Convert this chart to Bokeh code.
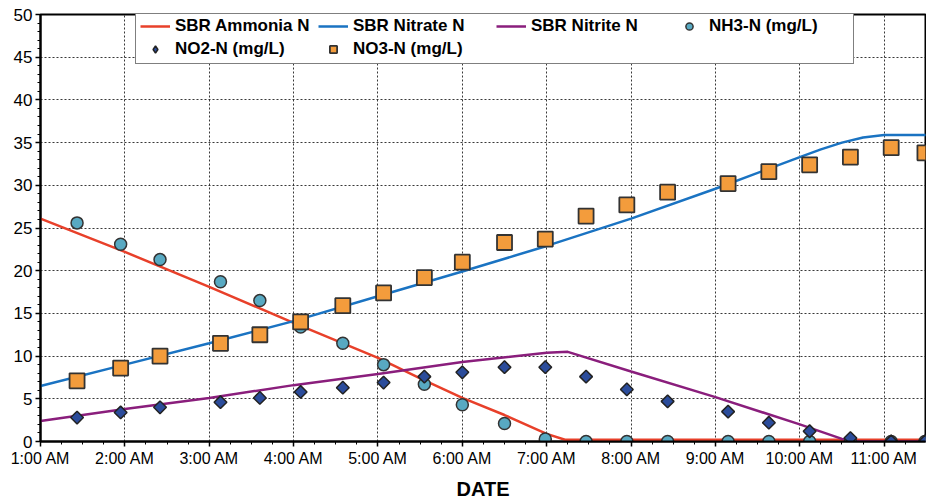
from bokeh.plotting import figure
from bokeh.models import FixedTicker, Legend, LegendItem
from bokeh.embed import file_html
from bokeh.resources import INLINE
import math

# ---------------- data ----------------
sample_times = ["1:26", "1:57", "2:25", "3:08", "3:36", "4:05", "4:35", "5:04", "5:33", "6:00",
                "6:30", "6:59", "7:28", "7:57", "8:26", "9:09", "9:38", "10:07", "10:36", "11:05", "11:29"]
nh3_n = [25.6, 23.1, 21.3, 18.7, 16.5, 13.4, 11.5, 9.0, 6.7, 4.3,
         2.1, 0.3, 0.0, 0.0, 0.0, 0.0, 0.0, 0.0, 0.0, 0.0, 0.0]
no2_n = [2.8, 3.4, 4.0, 4.6, 5.1, 5.8, 6.3, 6.9, 7.6, 8.1,
         8.7, 8.7, 7.6, 6.1, 4.7, 3.5, 2.2, 1.2, 0.4, 0.0, 0.0]
no3_n = [7.1, 8.6, 10.0, 11.5, 12.5, 14.0, 15.9, 17.4, 19.2, 21.0,
         23.3, 23.7, 26.4, 27.7, 29.2, 30.2, 31.6, 32.4, 33.3, 34.4, 33.8]

ammonia_times = ["1:00", "2:00", "3:00", "4:00", "5:00", "5:30", "6:00", "6:30", "7:00", "7:13", "11:30"]
ammonia_vals = [26.1, 22.2, 18.1, 13.9, 9.8, 7.4, 5.1, 3.1, 0.9, 0.2, 0.2]

nitrate_times = ["1:00", "2:00", "3:00", "4:00", "5:00", "6:00", "7:00", "8:00", "9:00", "10:00",
                 "10:15", "10:30", "10:45", "11:00", "11:30"]
nitrate_vals = [6.5, 9.0, 11.5, 14.1, 17.0, 19.9, 22.9, 26.1, 29.6, 33.3,
                34.2, 35.0, 35.6, 35.9, 35.9]

nitrite_times = ["1:00", "2:00", "3:00", "4:00", "5:00", "6:00", "7:00", "7:15", "8:00", "9:00",
                 "10:00", "10:30", "10:42", "11:30"]
nitrite_vals = [2.4, 3.8, 5.1, 6.6, 7.9, 9.3, 10.4, 10.5, 8.2, 5.2,
                2.0, 0.3, 0.0, 0.0]

hour_ticks = [1, 2, 3, 4, 5, 6, 7, 8, 9, 10, 11]
hour_labels = ["1:00 AM", "2:00 AM", "3:00 AM", "4:00 AM", "5:00 AM", "6:00 AM",
               "7:00 AM", "8:00 AM", "9:00 AM", "10:00 AM", "11:00 AM"]
y_ticks = [0, 5, 10, 15, 20, 25, 30, 35, 40, 45, 50]


def hrs(s):
    h, m = s.split(":")
    return int(h) + int(m) / 60.0


FONT = "Liberation Sans"

p = figure(width=926, height=502, x_range=(1.0, 11.49), y_range=(0, 50),
           output_backend="svg", toolbar_location=None,
           min_border_left=40, min_border_right=1, min_border_top=14, min_border_bottom=61)

p.background_fill_color = "white"
p.border_fill_color = "white"
p.outline_line_color = "black"
p.outline_line_width = 2

xt = FixedTicker(ticks=hour_ticks,
                 minor_ticks=[1 + i * 0.25 for i in range(0, 43)])
yt = FixedTicker(ticks=y_ticks, minor_ticks=list(range(0, 51)))
p.xaxis.ticker = xt
p.yaxis.ticker = yt
p.xgrid.ticker = FixedTicker(ticks=hour_ticks)
p.ygrid.ticker = FixedTicker(ticks=y_ticks)
p.xaxis.major_label_overrides = {t: l for t, l in zip(hour_ticks, hour_labels)}

for ax in (p.xaxis, p.yaxis):
    ax.axis_line_color = "black"
    ax.axis_line_width = 2
    ax.major_tick_line_color = "black"
    ax.major_tick_line_width = 1.5
    ax.minor_tick_line_color = "black"
    ax.major_tick_out = 5
    ax.major_tick_in = 0
    ax.minor_tick_out = 3
    ax.minor_tick_in = 0
    ax.major_label_text_font = FONT
    ax.major_label_text_font_size = "16px"
    ax.major_label_text_color = "black"
    ax.major_label_standoff = 3
p.yaxis.major_label_text_font_size = "17px"

p.xaxis.axis_label = "DATE"
p.xaxis.axis_label_text_font = FONT
p.xaxis.axis_label_text_font_size = "20px"
p.xaxis.axis_label_text_font_style = "bold"
p.xaxis.axis_label_text_color = "black"
p.xaxis.axis_label_standoff = 8

for g in (p.xgrid, p.ygrid):
    g.grid_line_color = "#222222"
    g.grid_line_dash = "2 2"
    g.grid_line_width = 1
    g.grid_line_alpha = 0.9

r_amm = p.line([hrs(t) for t in ammonia_times], ammonia_vals, line_color="#e8402a", line_width=2.5)
r_nitrate = p.line([hrs(t) for t in nitrate_times], nitrate_vals, line_color="#1a73c2", line_width=2.5)
r_nitrite = p.line([hrs(t) for t in nitrite_times], nitrite_vals, line_color="#8a1e7c", line_width=2.5)

xs = [hrs(t) for t in sample_times]
r_nh3 = p.scatter(xs, nh3_n, marker="circle", size=12, fill_color="#58a9c2",
                  line_color="#333333", line_width=1.5)
r_no2 = p.scatter(xs, no2_n, marker="square", angle=math.pi / 4, size=9, fill_color="#2b4c9b",
                  line_color="#222222", line_width=1.5)
r_no3 = p.scatter(xs, no3_n, marker="square", size=15, fill_color="#f39c3c",
                  line_color="#333333", line_width=1.8)

# legend-only key renderer (NaN data, never drawn in the plot) so the key shows a diamond
nan = float("nan")
r_no2_key = p.scatter([nan], [nan], marker="diamond", size=16, fill_color="#2b4c9b",
                      line_color="#222222", line_width=1.5)

legend = Legend(items=[
    LegendItem(label="SBR Ammonia N", renderers=[r_amm]),
    LegendItem(label="SBR Nitrate N", renderers=[r_nitrate]),
    LegendItem(label="SBR Nitrite N", renderers=[r_nitrite]),
    LegendItem(label="NH3-N (mg/L)", renderers=[r_nh3]),
    LegendItem(label="NO2-N (mg/L)", renderers=[r_no2_key]),
    LegendItem(label="NO3-N (mg/L)", renderers=[r_no3]),
], orientation="horizontal", ncols=4, location=(95, 377))
legend.label_text_font = FONT
legend.label_text_font_size = "17px"
legend.label_text_font_style = "bold"
legend.label_text_color = "black"
legend.glyph_width = 30
legend.glyph_height = 18
legend.label_height = 18
legend.label_width = 140
legend.label_standoff = 5
legend.spacing = 3
legend.padding = 4
legend.margin = 0
legend.border_line_color = "black"
legend.border_line_width = 1.5
legend.background_fill_color = "white"
legend.background_fill_alpha = 1.0
p.add_layout(legend, "center")

open("out.html", "w").write(file_html(p, INLINE))
